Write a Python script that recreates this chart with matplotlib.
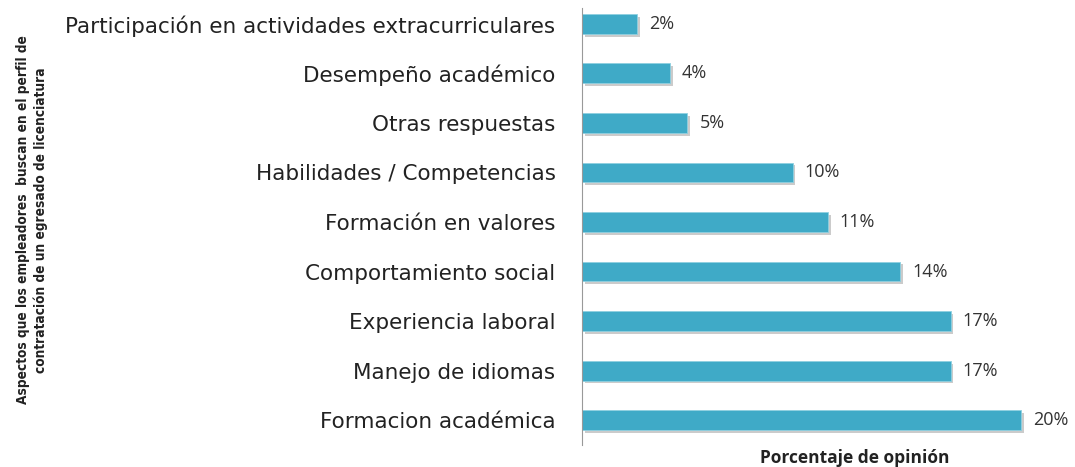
import matplotlib.pyplot as plt
from matplotlib import patheffects as pe

categories = ['Formacion académica', 'Manejo de idiomas', 'Experiencia laboral',
              'Comportamiento social', 'Formación en valores', 'Habilidades / Competencias',
              'Otras respuestas', 'Desempeño académico',
              'Participación en actividades extracurriculares']
values = [20.0, 16.8, 16.8, 14.5, 11.2, 9.6, 4.8, 4.0, 2.5]
value_labels = ['20%', '17%', '17%', '14%', '11%', '10%', '5%', '4%', '2%']

W, H = 1075, 467
fig = plt.figure(figsize=(W / 100, H / 100), dpi=100)
ax = fig.add_axes([582 / W, (H - 445) / H, (1060 - 582) / W, (445 - 8) / H])

pos = list(range(len(categories)))
bars = ax.barh(pos, values, height=0.4, color='#3FAAC7', edgecolor='#8FD0E0', linewidth=0.6,
               path_effects=[pe.SimplePatchShadow(offset=(2, -2), shadow_rgbFace='#999999', alpha=0.5),
                             pe.Normal()])
for y, v, lab in zip(pos, values, value_labels):
    ax.text(v + 0.55, y, lab, va='center', ha='left', fontsize=13, color='#333333',
            family='Open Sans')

ax.set_xlim(0, 21.78)
ax.set_ylim(-0.5, 8.32)
ax.set_yticks(pos)
ax.set_yticklabels(categories, fontsize=15.5, family='DejaVu Sans', color='#222222')
ax.tick_params(axis='y', length=0, pad=19)
ax.set_xticks([])
for s in ['top', 'right', 'bottom']:
    ax.spines[s].set_visible(False)
ax.spines['left'].set_color('#999999')
ax.spines['left'].set_linewidth(0.8)

fig.text(855 / W, 1 - 458 / H, 'Porcentaje de opinión', ha='center', va='center',
         fontsize=12.5, fontweight='bold', family='Open Sans', color='#222222')
fig.text(32 / W, 1 - 220 / H,
         'Aspectos que los empleadores  buscan en el perfil de\ncontratación de un egresado de licenciatura',
         rotation=90, ha='center', va='center', fontsize=9.8, fontweight='bold',
         family='DejaVu Sans', fontstretch='condensed', color='#222222', linespacing=1.3)

fig.savefig('out.png', dpi=100)
